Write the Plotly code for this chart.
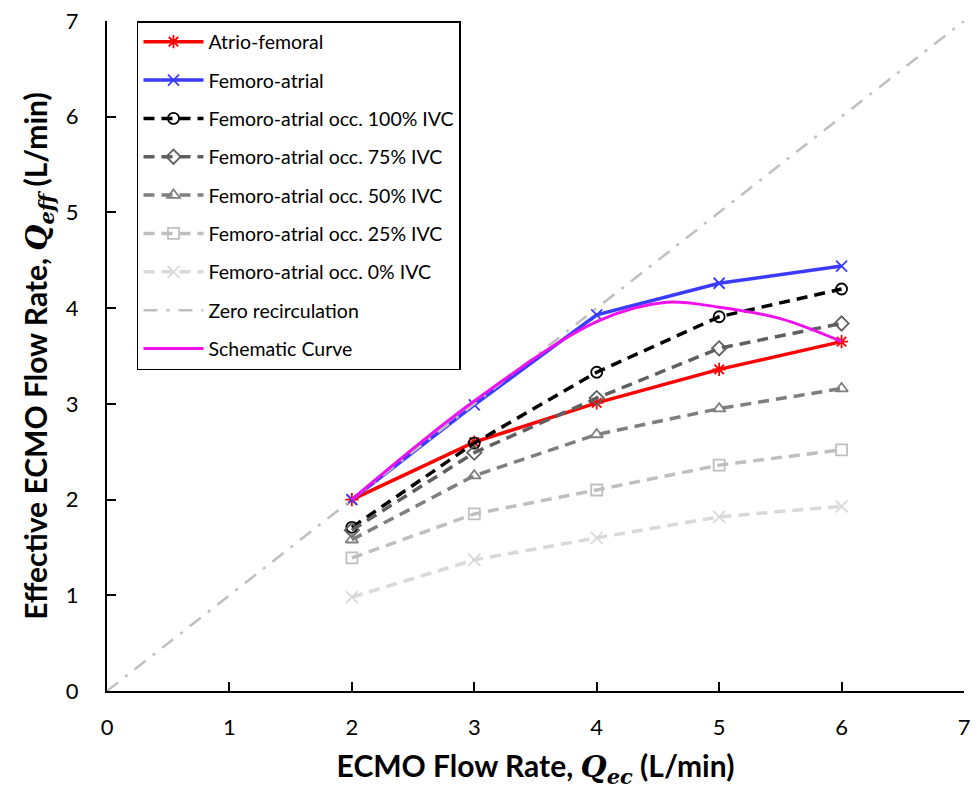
import plotly.graph_objects as go

x_flow = [2, 3, 4, 5, 6]
atrio_femoral = [2.00, 2.60, 3.01, 3.36, 3.65]
femoro_atrial = [2.00, 2.99, 3.93, 4.26, 4.44]
occ_100 = [1.71, 2.59, 3.33, 3.91, 4.20]
occ_75 = [1.68, 2.49, 3.06, 3.58, 3.84]
occ_50 = [1.58, 2.25, 2.68, 2.95, 3.16]
occ_25 = [1.39, 1.85, 2.10, 2.36, 2.52]
occ_0 = [0.98, 1.37, 1.60, 1.82, 1.93]

zero_x = [0, 7]
zero_y = [0, 7]

schem_x = [2, 3, 4, 4.55, 5, 5.5, 6]
schem_y = [2.00, 3.03, 3.86, 4.06, 4.01, 3.89, 3.65]

FONT = "Lato"
DASH = "11px,7px"

fig = go.Figure()

def add(name, x, y, color, symbol, dash="solid", width=3.5, msize=10, mode="lines+markers", shape="linear", mwidth=1.8):
    fig.add_trace(go.Scatter(
        x=x, y=y, name=name, mode=mode, legendgroup=name,
        line=dict(color=color, width=width, dash=dash, shape=shape),
        marker=dict(symbol=symbol, size=msize, color=color,
                    line=dict(color=color, width=mwidth)),
    ))

add("Atrio-femoral", x_flow, atrio_femoral, "#FF0000", "asterisk-open", msize=11)
add("Femoro-atrial", x_flow, femoro_atrial, "#3B3BFF", "x-thin-open", msize=11)
add("Femoro-atrial occ. 100% IVC", x_flow, occ_100, "#000000", "circle-open", dash=DASH, msize=11)
add("Femoro-atrial occ. 75% IVC", x_flow, occ_75, "#5F5F5F", "diamond-open", dash=DASH, msize=11)
add("Femoro-atrial occ. 50% IVC", x_flow, occ_50, "#7F7F7F", "triangle-up-open", dash=DASH, msize=11)
add("Femoro-atrial occ. 25% IVC", x_flow, occ_25, "#BFBFBF", "square-open", dash=DASH, msize=11)
add("Femoro-atrial occ. 0% IVC", x_flow, occ_0, "#D9D9D9", "x-thin-open", dash=DASH, msize=12)
fig.add_trace(go.Scatter(
    x=zero_x, y=zero_y, name="Zero recirculation", mode="lines", legendgroup="zero",
    line=dict(color="#BFBFBF", width=2.5, dash="14px,9px,3px,9px"),
))
fig.add_trace(go.Scatter(
    x=schem_x, y=schem_y, name="Schematic Curve", mode="lines", legendgroup="schem",
    line=dict(color="#EE11EE", width=3, shape="spline", smoothing=1.0),
))

qstyle = "font-family:'DejaVu Serif';font-style:italic"
fig.update_layout(
    width=976, height=789,
    margin=dict(l=107, r=12, t=21, b=98),
    paper_bgcolor="white", plot_bgcolor="white",
    font=dict(family=FONT, size=22, color="black"),
    showlegend=True,
    legend=dict(
        x=0.035, y=1.0, xanchor="left", yanchor="top",
        bordercolor="black", borderwidth=1.5, bgcolor="white",
        font=dict(family=FONT, size=19.5, color="black"),
        tracegroupgap=10, itemwidth=60,
    ),
    xaxis=dict(
        range=[0, 7], dtick=1, showgrid=False, zeroline=False,
        showline=True, linecolor="black", linewidth=2, automargin=False,
        ticks="inside", ticklen=9, tickwidth=2, tickcolor="black",
        tickfont=dict(family=FONT, size=22), ticklabelstandoff=16,
        title=dict(text=f"<b>ECMO Flow Rate, <span style=\"{qstyle}\">Q</span><sub><span style=\"{qstyle}\">ec</span></sub> (L/min)</b>",
                   font=dict(family=FONT, size=30), standoff=17),
    ),
    yaxis=dict(
        range=[0, 7], dtick=1, showgrid=False, zeroline=False,
        showline=True, linecolor="black", linewidth=2, automargin=False,
        ticks="inside", ticklen=9, tickwidth=2, tickcolor="black",
        tickfont=dict(family=FONT, size=22), ticklabelstandoff=22,
        title=dict(text=f"<b>Effective ECMO Flow Rate, <span style=\"{qstyle}\">Q</span><sub><span style=\"{qstyle}\">eff</span></sub> (L/min)</b>",
                   font=dict(family=FONT, size=30), standoff=9),
    ),
)

fig.write_html("out.html", config={"displayModeBar": False},
               post_script="document.body.style.margin='0';document.body.style.padding='0';")
